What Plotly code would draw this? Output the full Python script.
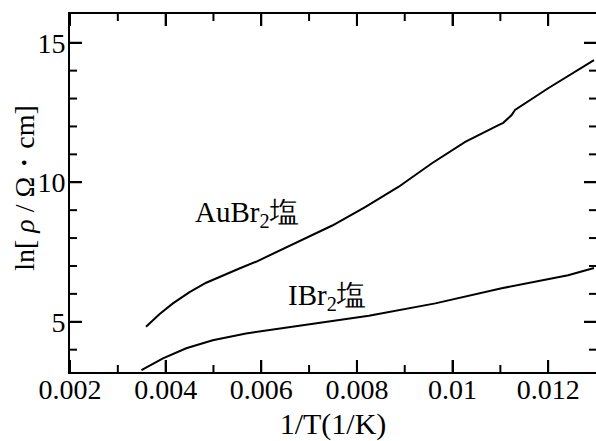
import plotly.graph_objects as go

# AuBr2 salt curve
au_x = [0.00359, 0.003875, 0.004152, 0.0045, 0.004848, 0.005194, 0.005542, 0.00589,
        0.006235, 0.006583, 0.006792, 0.007485, 0.008181, 0.008875, 0.009569, 0.010265,
        0.01096, 0.01106, 0.011236, 0.011306, 0.0120, 0.012958]
au_y = [4.82, 5.28, 5.66, 6.06, 6.40, 6.66, 6.91, 7.15,
        7.43, 7.72, 7.91, 8.45, 9.12, 9.84, 10.68, 11.45,
        12.05, 12.13, 12.41, 12.59, 13.37, 14.38]

# IBr2 salt curve
ib_x = [0.003494, 0.003944, 0.004431, 0.004985, 0.00568, 0.006375, 0.007069,
        0.007765, 0.00825, 0.00964, 0.011027, 0.012417, 0.012958]
ib_y = [3.27, 3.69, 4.05, 4.34, 4.58, 4.76, 4.94,
        5.12, 5.22, 5.66, 6.20, 6.67, 6.93]

# axis ranges and ticks
x_range = [0.002, 0.013]
y_range = [3.2, 16.03]
x_major = [0.002, 0.004, 0.006, 0.008, 0.010, 0.012]
x_major_text = ["0.002", "0.004", "0.006", "0.008", "0.01", "0.012"]
x_minor = [0.003, 0.005, 0.007, 0.009, 0.011]
y_major = [5, 10, 15]
y_minor = [4, 6, 7, 8, 9, 11, 12, 13, 14]

FONT = "Liberation Serif"
W, H = 596, 441
L, R, T, B = 70, 0, 14, 69
MAJ, MIN = 12, 7  # tick lengths, px

# conversion of tick length in px to data units along each axis
px_x = (x_range[1] - x_range[0]) / (W - L - R)
px_y = (y_range[1] - y_range[0]) / (H - T - B)

fig = go.Figure()
fig.add_trace(go.Scatter(x=au_x, y=au_y, mode="lines",
                         line=dict(color="black", width=2), hoverinfo="skip"))
fig.add_trace(go.Scatter(x=ib_x, y=ib_y, mode="lines",
                         line=dict(color="black", width=2), hoverinfo="skip"))

# inside tick marks on all four sides, built from the tick arrays
tx, ty = [], []
for vals, ln in ((x_major, MAJ), (x_minor, MIN)):
    for v in vals:
        tx += [v, v, None, v, v, None]
        ty += [y_range[0], y_range[0] + ln * px_y, None,
               y_range[1], y_range[1] - ln * px_y, None]
for vals, ln in ((y_major, MAJ), (y_minor, MIN)):
    for v in vals:
        tx += [x_range[0], x_range[0] + ln * px_x, None,
               x_range[1], x_range[1] - ln * px_x, None]
        ty += [v, v, None, v, v, None]
fig.add_trace(go.Scatter(x=tx, y=ty, mode="lines", cliponaxis=False,
                         line=dict(color="black", width=2), hoverinfo="skip"))

fig.add_annotation(x=0.00571, y=8.85, text="AuBr<sub>2</sub>塩", showarrow=False,
                   font=dict(family=FONT, size=29, color="black"), xref="x", yref="y")
fig.add_annotation(x=0.00738, y=5.9, text="IBr<sub>2</sub>塩", showarrow=False,
                   font=dict(family=FONT, size=29, color="black"), xref="x", yref="y")
# y-axis title
fig.add_annotation(x=-0.087, y=0.515, xref="paper", yref="paper", textangle=-90,
                   text="ln[ <i>ρ</i> / Ω・cm]", showarrow=False,
                   xanchor="center", yanchor="middle",
                   font=dict(family=FONT, size=28, color="black"))

fig.update_layout(
    width=W, height=H,
    margin=dict(l=L, r=R, t=T, b=B, autoexpand=False),
    paper_bgcolor="white", plot_bgcolor="white",
    showlegend=False,
    font=dict(family=FONT, size=28, color="black"),
)
fig.update_xaxes(
    range=x_range, tickvals=x_major, ticktext=x_major_text,
    ticks="inside", ticklen=MAJ, tickwidth=2, tickcolor="black",
    ticklabelstandoff=-9,
    showline=True, linewidth=2, linecolor="black", mirror="ticks",
    showgrid=False, zeroline=False, automargin=False,
    title=dict(text="1/T(1/K)", font=dict(family=FONT, size=30)),
    tickfont=dict(family=FONT, size=28),
)
fig.update_yaxes(
    range=y_range, tickvals=y_major,
    ticks="inside", ticklen=MAJ, tickwidth=2, tickcolor="black",
    ticklabelstandoff=-3,
    showline=True, linewidth=2, linecolor="black", mirror="ticks",
    showgrid=False, zeroline=False, automargin=False,
    tickfont=dict(family=FONT, size=28),
)

fig.write_html("out.html", config={"displayModeBar": False},
               post_script="document.body.style.margin='0';")
